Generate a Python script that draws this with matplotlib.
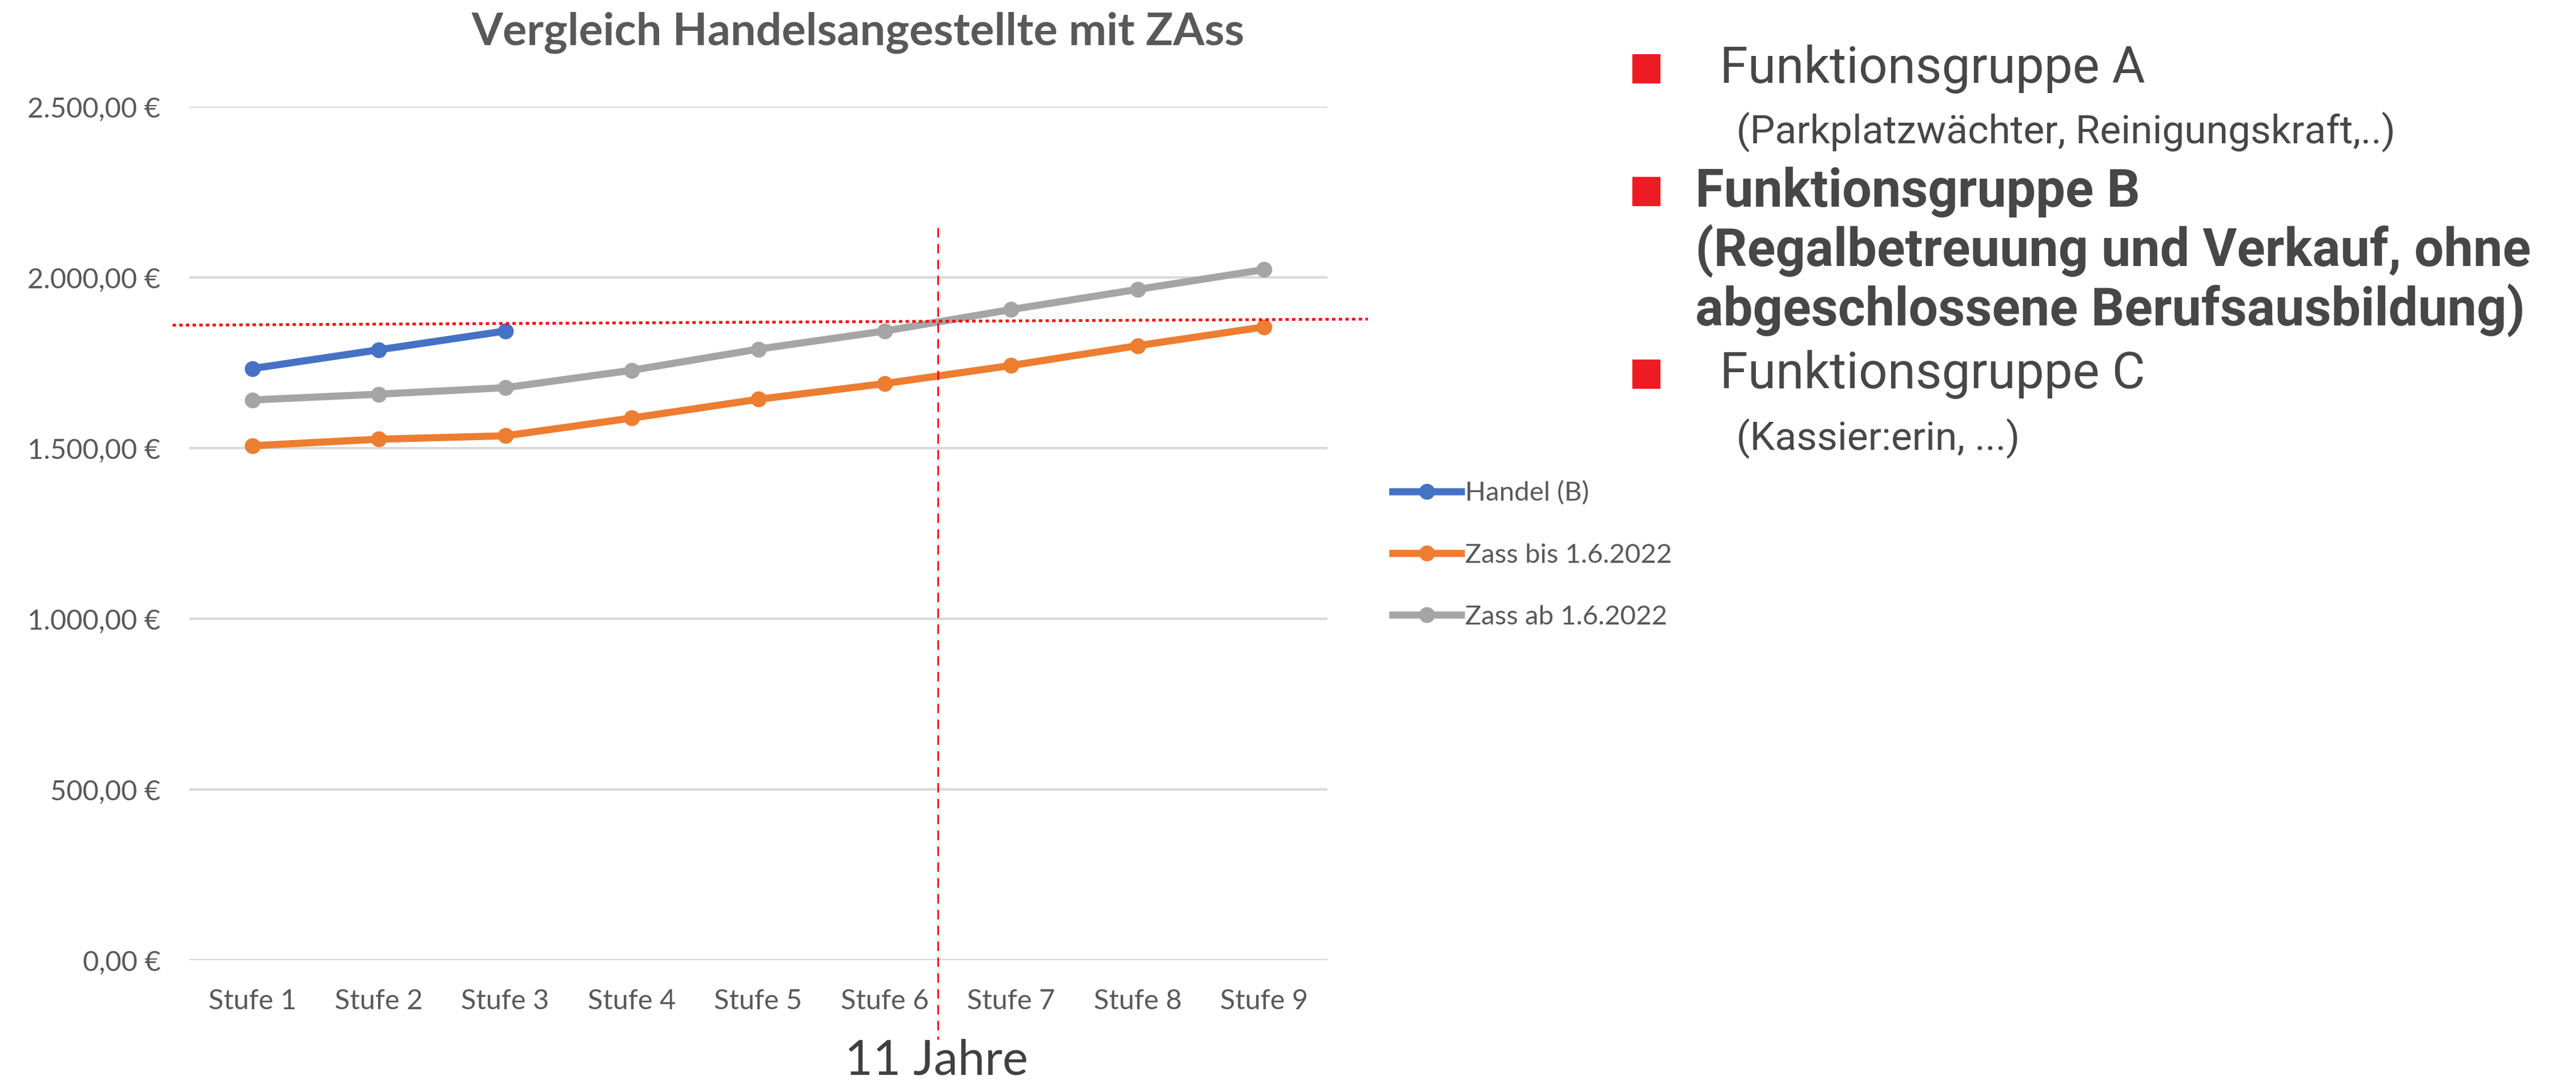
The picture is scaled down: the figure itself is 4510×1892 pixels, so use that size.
import matplotlib
matplotlib.use('Agg')
import matplotlib.pyplot as plt
from matplotlib.patches import Rectangle

# Daten
stufen = ['Stufe 1', 'Stufe 2', 'Stufe 3', 'Stufe 4', 'Stufe 5',
          'Stufe 6', 'Stufe 7', 'Stufe 8', 'Stufe 9']
handel_b = [1733, 1788, 1843]
zass_bis = [1507, 1526, 1536, 1588, 1643, 1689, 1742, 1800, 1855]
zass_ab = [1641, 1658, 1677, 1728, 1790, 1843, 1906, 1965, 2023]
y_ticks = [0, 500, 1000, 1500, 2000, 2500]
y_tick_labels = ['0,00 €', '500,00 €', '1.000,00 €', '1.500,00 €', '2.000,00 €', '2.500,00 €']

# Hilfslinien (Schätzung aus dem Bild)
grenze_x = 5.42
grenze_y = [1860, 1878]

grau = '#595959'
font = ['Lato', 'DejaVu Sans']
font2 = ['Roboto', 'DejaVu Sans']

W, H = 4510, 1892
fig = plt.figure(figsize=(W / 100, H / 100), dpi=100)
ax = fig.add_axes([331 / W, 1 - 1682 / H, 1993 / W, (1682 - 187) / H])

x = list(range(len(stufen)))
ax.plot(x[:3], handel_b, color='#4472C4', lw=9, marker='o', ms=19, label='Handel (B)', zorder=4)
ax.plot(x, zass_bis, color='#ED7D31', lw=9, marker='o', ms=19, label='Zass bis 1.6.2022', zorder=3)
ax.plot(x, zass_ab, color='#A5A5A5', lw=9, marker='o', ms=19, label='Zass ab 1.6.2022', zorder=3)

ax.set_xlim(-0.5, 8.5)
ax.set_ylim(0, 2500)
ax.set_yticks(y_ticks)
ax.set_yticklabels(y_tick_labels, fontfamily=font, fontsize=35, color=grau)
ax.set_xticks(x)
ax.set_xticklabels(stufen, fontfamily=font, fontsize=35, color=grau)
ax.tick_params(axis='y', length=0, pad=36)
ax.tick_params(axis='x', length=0, pad=36)
ax.grid(axis='y', color='#d9d9d9', lw=3)
ax.set_axisbelow(True)
for s in ax.spines.values():
    s.set_visible(False)

# rote Linien
ax.plot([-0.63, 8.82], grenze_y, color='red', ls=(0, (1.2, 1.2)), lw=3.5, clip_on=False, zorder=5)
ax.plot([grenze_x, grenze_x], [2145, -232], color='red', ls=(0, (6, 4)), lw=2, clip_on=False, zorder=5)

fig.text(1639 / W, 1 - 1858 / H, '11 Jahre', ha='center', va='center',
         fontfamily=font, fontsize=61, color='#404040')

fig.text(1502 / W, 1 - 57 / H, 'Vergleich Handelsangestellte mit ZAss', ha='center', va='center',
         fontfamily=font, fontsize=57, fontweight='bold', color=grau)

fig.legend(loc='upper left', bbox_to_anchor=(2395 / W, 1 - 800 / H), frameon=False,
           prop={'family': font, 'size': 34}, labelcolor=grau, handlelength=2.55,
           handletextpad=0.15, labelspacing=1.4)

# Text rechts
txt = '#474747'
for yy in [42, 117, 228]:
    fig.patches.append(Rectangle((2858 / W, 1 - (yy * 2.876 + 24) / H), 48 / W, 50 / H,
                                 transform=fig.transFigure, color='#ED1C24', figure=fig))
zeilen = [
    (1047, 42, 'Funktionsgruppe A', 64, 'normal'),
    (1057, 80, '(Parkplatzwächter, Reinigungskraft,..)', 50, 'normal'),
    (1032, 117, 'Funktionsgruppe B', 66, 'bold'),
    (1032, 153, '(Regalbetreuung und Verkauf, ohne', 66, 'bold'),
    (1032, 189, 'abgeschlossene Berufsausbildung)', 66, 'bold'),
    (1047, 228, 'Funktionsgruppe C', 64, 'normal'),
    (1057, 267, '(Kassier:erin, ...)', 50, 'normal'),
]
for xs, ys, t, fs, fw in zeilen:
    fig.text(xs * 2.876 / W, 1 - ys * 2.876 / H, t, ha='left', va='center',
             fontfamily=font2, fontsize=fs, fontweight=fw, color=txt)

fig.savefig('out.png', dpi=100)
